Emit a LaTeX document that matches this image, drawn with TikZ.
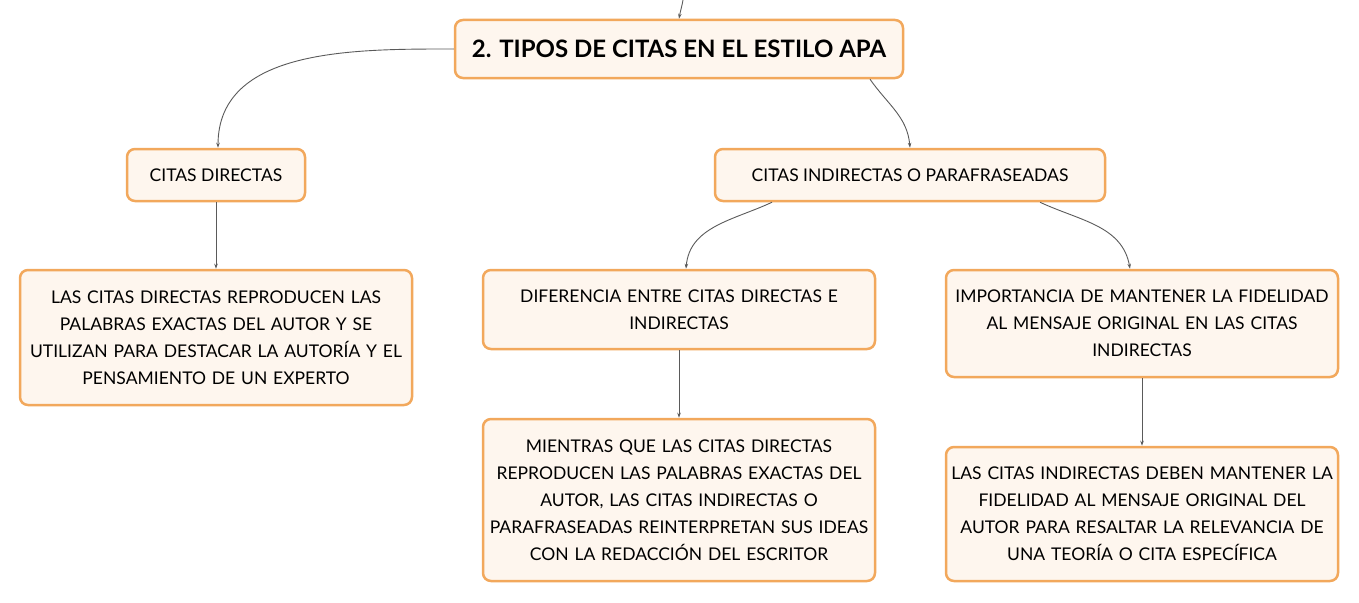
\documentclass[tikz,border=0pt]{standalone}
\usepackage{fontspec}
\setmainfont{Lato}
\usetikzlibrary{arrows.meta}
\definecolor{boxline}{RGB}{242,168,92}
\definecolor{boxfill}{RGB}{254,246,238}
\definecolor{linkcol}{RGB}{90,90,90}
\tikzset{
  idea/.style={draw=boxline, fill=boxfill, line width=2.5pt, rounded corners=8pt,
    align=center, inner sep=0pt, font=\fontsize{17.5}{27}\selectfont},
  link/.style={draw=linkcol, line width=0.9pt, -{Stealth[length=5pt,width=3.5pt]}},
}

\begin{document}
\begin{tikzpicture}[x=1pt,y=-1pt]
                            \useasboundingbox (0,0) rectangle (1359,602);
                            % nodos
                            \node[idea, minimum width=448, minimum height=58,
                              font=\bfseries\fontsize{24}{30}\selectfont] (tipos) at (679,49)
                              {2. TIPOS DE CITAS EN EL ESTILO APA};
                            \node[idea, minimum width=178, minimum height=52] (directas) at (216,175)
                              {CITAS DIRECTAS};
                            \node[idea, minimum width=390, minimum height=52] (indirectas) at (910,175)
                              {CITAS INDIRECTAS O PARAFRASEADAS};
                            \node[idea, minimum width=392, minimum height=135, text width=384] (directasdef) at (216,337.5)
                              {LAS CITAS DIRECTAS REPRODUCEN LAS\\PALABRAS EXACTAS DEL AUTOR Y SE\\UTILIZAN PARA DESTACAR LA AUTORÍA Y EL\\PENSAMIENTO DE UN EXPERTO};
                            \node[idea, minimum width=392, minimum height=79, text width=384] (diferencia) at (679,309.5)
                              {DIFERENCIA ENTRE CITAS DIRECTAS E\\INDIRECTAS};
                            \node[idea, minimum width=392, minimum height=107, text width=384] (importancia) at (1142,323.5)
                              {IMPORTANCIA DE MANTENER LA FIDELIDAD\\AL MENSAJE ORIGINAL EN LAS CITAS\\INDIRECTAS};
                            \node[idea, minimum width=392, minimum height=162, text width=384] (mientras) at (679,500)
                              {MIENTRAS QUE LAS CITAS DIRECTAS\\REPRODUCEN LAS PALABRAS EXACTAS DEL\\AUTOR, LAS CITAS INDIRECTAS O\\PARAFRASEADAS REINTERPRETAN SUS IDEAS\\CON LA REDACCIÓN DEL ESCRITOR};
                            \node[idea, minimum width=392, minimum height=134, text width=384] (fidelidad) at (1142,514)
                              {LAS CITAS INDIRECTAS DEBEN MANTENER LA\\FIDELIDAD AL MENSAJE ORIGINAL DEL\\AUTOR PARA RESALTAR LA RELEVANCIA DE\\UNA TEORÍA O CITA ESPECÍFICA};
                            \coordinate (arriba) at (683,0);
                            % conectores
                            \draw[link] (arriba) to[out=-100,in=80] (tipos.north);
                            \draw[link] (tipos.west) to[out=180,in=90] ([xshift=2]directas.north);
                            \draw[link] ([xshift=191]tipos.south) to[out=-55,in=95] (indirectas.north);
                            \draw[link] (directas.south) -- (directasdef.north);
                            \draw[link] ([xshift=-138]indirectas.south) to[out=205,in=85] ([xshift=7]diferencia.north);
                            \draw[link] ([xshift=130]indirectas.south) to[out=-25,in=100] ([xshift=-12]importancia.north);
                            \draw[link] (diferencia.south) -- (mientras.north);
                            \draw[link] (importancia.south) -- (fidelidad.north);
                        \end{tikzpicture}
\end{document}
